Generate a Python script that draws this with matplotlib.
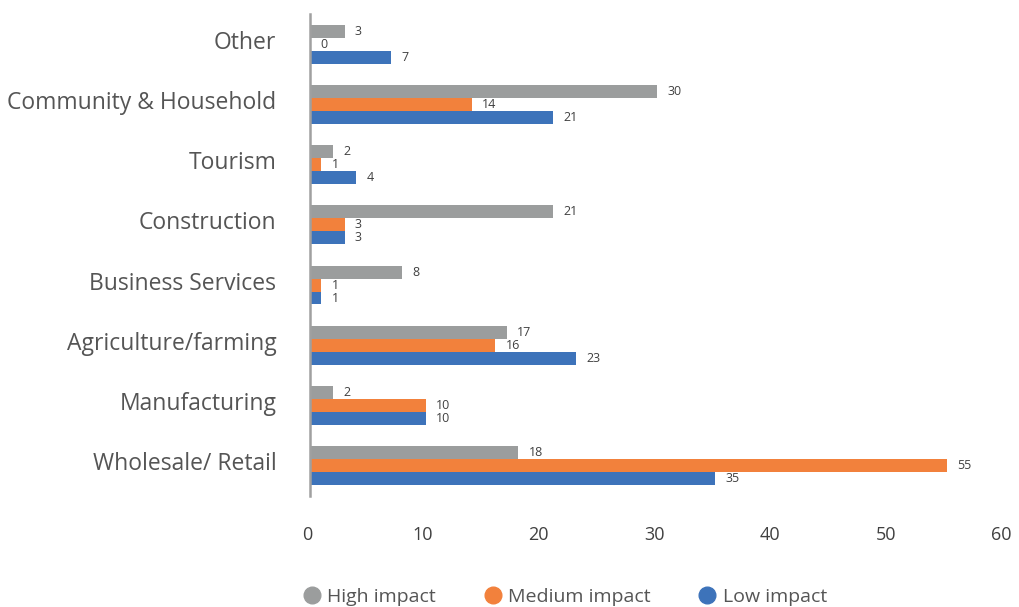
import matplotlib
matplotlib.use("Agg")
import matplotlib.pyplot as plt
from matplotlib.lines import Line2D
from matplotlib.transforms import ScaledTranslation
import numpy as np

plt.rcParams['font.family'] = ['Open Sans', 'DejaVu Sans']

categories = ["Wholesale/ Retail", "Manufacturing", "Agriculture/farming",
              "Business Services", "Construction", "Tourism",
              "Community & Household", "Other"]
high_impact = [18, 2, 17, 8, 21, 2, 30, 3]
medium_impact = [55, 10, 16, 1, 3, 1, 14, 0]
low_impact = [35, 10, 23, 1, 3, 4, 21, 7]
x_ticks = [0, 10, 20, 30, 40, 50, 60]

c_high = "#9b9d9d"
c_med = "#f2813c"
c_low = "#3d73ba"
text_c = "#404040"

fig = plt.figure(figsize=(10.19, 6.07), dpi=100)
ax = fig.add_axes([0.304, 0.183, 0.682, 0.794])

y = np.arange(len(categories))
h = 0.215
series = [(high_impact, c_high, h, "High impact"),
          (medium_impact, c_med, 0.0, "Medium impact"),
          (low_impact, c_low, -h, "Low impact")]
for vals, col, off, name in series:
    ax.barh(y + off, vals, height=h, color=col, label=name)
    for yi, v in zip(y + off, vals):
        ax.text(v + 0.9, yi, str(v), va='center', ha='left',
                fontsize=9, color=text_c)

ax.set_xlim(0, 60)
ax.set_ylim(-0.5, 7.5)
ax.set_yticks(y)
ax.set_yticklabels(categories, fontsize=16.5, color="#555555")
ax.set_xticks(x_ticks)
ax.set_xticklabels([str(t) for t in x_ticks], fontsize=13, color=text_c)
ax.tick_params(axis='y', length=0, pad=24)
ax.tick_params(axis='x', length=0, pad=22)

# nudge category labels up slightly and value ticks a little left
up = ScaledTranslation(0, 0.045, fig.dpi_scale_trans)
for lbl in ax.get_yticklabels():
    lbl.set_transform(lbl.get_transform() + up)
left = ScaledTranslation(-0.03, 0, fig.dpi_scale_trans)
for lbl in ax.get_xticklabels():
    lbl.set_transform(lbl.get_transform() + left)

for s in ['top', 'right', 'bottom']:
    ax.spines[s].set_visible(False)
ax.spines['left'].set_color("#a0a0a0")
ax.spines['left'].set_linewidth(1.8)

handles = [Line2D([0], [0], marker='o', linestyle='none', markersize=12,
                  markerfacecolor=c, markeredgecolor=c)
           for c in (c_high, c_med, c_low)]
fig.legend(handles, ["High impact", "Medium impact", "Low impact"],
           loc='center', bbox_to_anchor=(0.554, 0.016), ncol=3, frameon=False,
           fontsize=14, handlelength=1.0, handletextpad=0.3,
           columnspacing=2.4, labelcolor="#555555")

fig.savefig("out.png", dpi=100)
